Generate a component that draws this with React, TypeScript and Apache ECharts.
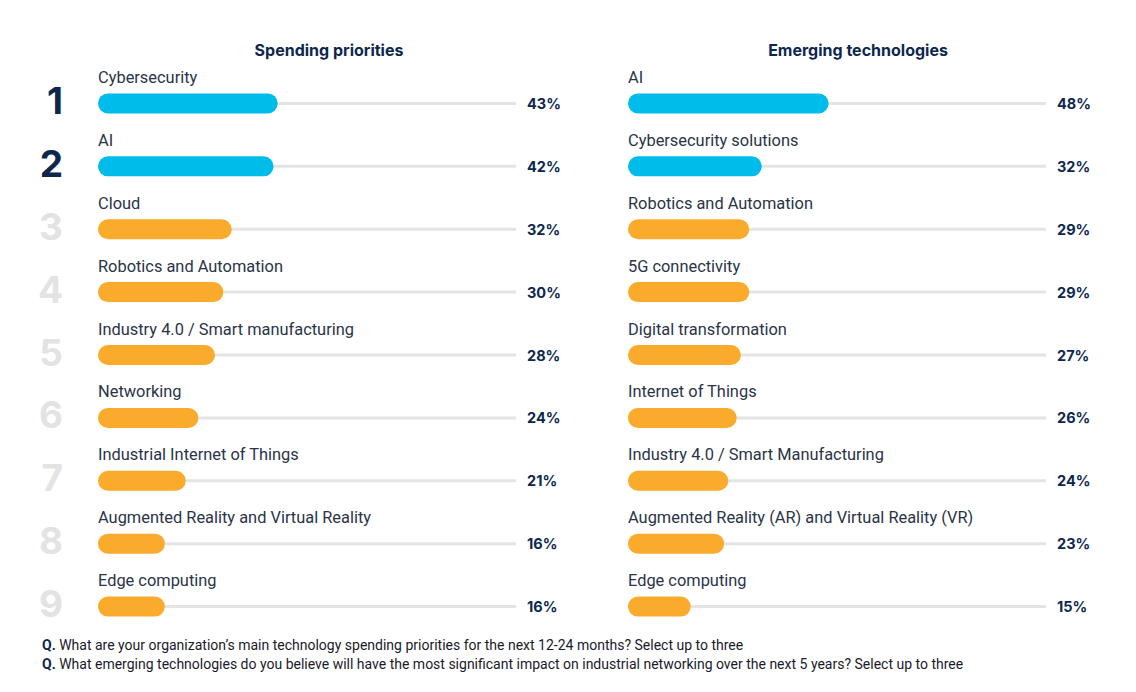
import React, { useEffect, useRef } from "react";
import * as echarts from "echarts";

const spendCategories = [
  "Cybersecurity",
  "AI",
  "Cloud",
  "Robotics and Automation",
  "Industry 4.0 / Smart manufacturing",
  "Networking",
  "Industrial Internet of Things",
  "Augmented Reality and Virtual Reality",
  "Edge computing",
];
const spendValues = [43, 42, 32, 30, 28, 24, 21, 16, 16];

const emergingCategories = [
  "AI",
  "Cybersecurity solutions",
  "Robotics and Automation",
  "5G connectivity",
  "Digital transformation",
  "Internet of Things",
  "Industry 4.0 / Smart Manufacturing",
  "Augmented Reality (AR) and Virtual Reality (VR)",
  "Edge computing",
];
const emergingValues = [48, 32, 29, 29, 27, 26, 24, 23, 15];

const ranks = ["1", "2", "3", "4", "5", "6", "7", "8", "9"];
const highlightCount = 2;

const titles = ["Spending priorities", "Emerging technologies"];
const footnotes = [
  "What are your organization\u2019s main technology spending priorities for the next 12-24 months? Select up to three",
  "What emerging technologies do you believe will have the most significant impact on industrial networking over the next 5 years? Select up to three",
];

const CYAN = "#00bceb";
const ORANGE = "#fbab2c";
const TRACK = "#e4e4e4";
const NAVY = "#0d274d";
const LABEL = "#2a3447";
const FONT = "Roboto, 'Noto Sans', sans-serif";
const BOLD_FONT = "Inter, Roboto, sans-serif";

export default function App() {
  const ref = useRef<HTMLDivElement>(null);

  useEffect(() => {
    if (!ref.current) return;
    const chart = echarts.init(ref.current, undefined, { renderer: "svg" });

    const panels = [
      { cats: spendCategories, vals: spendValues, left: 98, showRank: true },
      { cats: emergingCategories, vals: emergingValues, left: 628, showRank: false },
    ];

    const grid: any[] = [];
    const xAxis: any[] = [];
    const yAxis: any[] = [];
    const series: any[] = [];

    panels.forEach((p, i) => {
      grid.push({ left: p.left, width: 418, top: 72, height: 566, containLabel: false });
      xAxis.push({
        gridIndex: i,
        type: "value",
        min: 0,
        max: 100,
        show: false,
      });
      yAxis.push({
        gridIndex: i,
        type: "category",
        data: p.cats,
        inverse: true,
        axisLine: { show: false },
        axisTick: { show: false },
        splitLine: { show: false },
        axisLabel: {
          show: p.showRank,
          margin: 35,
          align: "right",
          padding: [0, 0, 6, 0],
          formatter: (_v: string, idx: number) =>
            idx < highlightCount ? `{a|${ranks[idx]}}` : `{b|${ranks[idx]}}`,
          rich: {
            a: { fontSize: 37, fontWeight: "bold", color: NAVY, fontFamily: BOLD_FONT },
            b: { fontSize: 37, fontWeight: "bold", color: "#e3e3e3", fontFamily: BOLD_FONT },
          },
        },
      });
      yAxis.push({
        gridIndex: i,
        type: "category",
        data: p.cats,
        inverse: true,
        show: false,
      });
      const trackAxis = yAxis.length - 1;
      const barAxis = yAxis.length - 2;

      series.push({
        type: "bar",
        xAxisIndex: i,
        yAxisIndex: trackAxis,
        data: p.cats.map(() => 100),
        barWidth: 3,
        itemStyle: { color: TRACK },
        silent: true,
        z: 1,
        label: {
          show: true,
          position: "right",
          distance: 11,
          formatter: (params: any) => `${p.vals[params.dataIndex]}%`,
          fontFamily: BOLD_FONT,
          fontWeight: "bold",
          fontSize: 14.5,
          color: NAVY,
        },
      });
      series.push({
        type: "bar",
        xAxisIndex: i,
        yAxisIndex: barAxis,
        data: p.vals.map((v, idx) => ({
          value: v,
          itemStyle: { color: idx < highlightCount ? CYAN : ORANGE },
        })),
        barWidth: 20,
        z: 3,
        itemStyle: { borderRadius: 10 },
        label: {
          show: true,
          position: [0, -16],
          align: "left",
          verticalAlign: "middle",
          formatter: (params: any) => p.cats[params.dataIndex],
          fontFamily: FONT,
          fontSize: 16.4,
          color: LABEL,
        },
      });
    });

    chart.setOption({
      animation: false,
      backgroundColor: "#ffffff",
      grid,
      xAxis,
      yAxis,
      series,
      graphic: [
        ...titles.map((t, i) => ({
          type: "text",
          x: i === 0 ? 329 : 858,
          y: 50,
          style: {
            text: t,
            align: "center",
            verticalAlign: "middle",
            fontFamily: BOLD_FONT,
            fontWeight: "bold",
            fontSize: 16,
            fill: NAVY,
          },
        })),
        ...footnotes.map((t, i) => ({
          type: "text",
          x: 42,
          y: 645 + i * 19,
          style: {
            text: `{q|Q.} ${t}`,
            verticalAlign: "middle",
            fontFamily: FONT,
            fontSize: 14,
            fill: "#1a1a2a",
            rich: {
              q: { fontWeight: "bold", fontSize: 14, fontFamily: FONT, fill: NAVY },
            },
          },
        })),
      ],
    });

    return () => chart.dispose();
  }, []);

  return (
    <div
      ref={ref}
      style={{ position: "fixed", left: 0, top: 0, width: 1136, height: 692 }}
    />
  );
}
